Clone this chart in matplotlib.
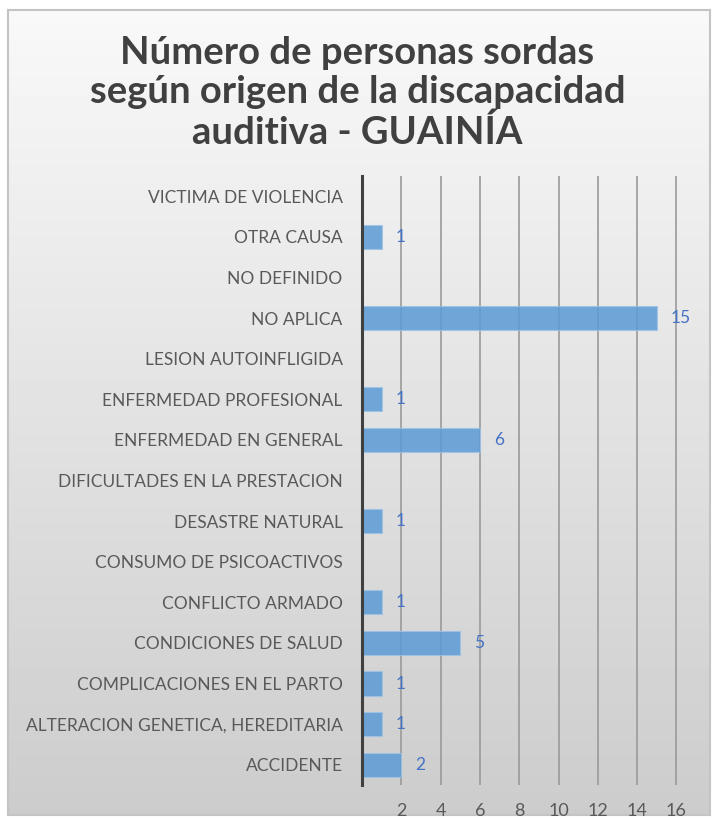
import numpy as np
import matplotlib.pyplot as plt

# categories, bottom to top as drawn
categories = [
    "ACCIDENTE",
    "ALTERACION GENETICA, HEREDITARIA",
    "COMPLICACIONES EN EL PARTO",
    "CONDICIONES DE SALUD",
    "CONFLICTO ARMADO",
    "CONSUMO DE PSICOACTIVOS",
    "DESASTRE NATURAL",
    "DIFICULTADES EN LA PRESTACION",
    "ENFERMEDAD EN GENERAL",
    "ENFERMEDAD PROFESIONAL",
    "LESION AUTOINFLIGIDA",
    "NO APLICA",
    "NO DEFINIDO",
    "OTRA CAUSA",
    "VICTIMA DE VIOLENCIA",
]
values = [2, 1, 1, 5, 1, 0, 1, 0, 6, 1, 0, 15, 0, 1, 0]
xticks = [2, 4, 6, 8, 10, 12, 14, 16]

title = "Número de personas sordas\nsegún origen de la discapacidad\nauditiva - GUAINÍA"

plt.rcParams["font.family"] = ["Lato", "DejaVu Sans"]

fig = plt.figure(figsize=(7.15, 8.21), dpi=100)
fig.patch.set_facecolor("white")

# gradient background panel with light border
bg = fig.add_axes([8 / 715, 1 - 815 / 821, 702 / 715, 805 / 821], zorder=0)
grad = np.linspace(0.975, 0.80, 256).reshape(-1, 1)
bg.imshow(grad, aspect="auto", cmap="gray", vmin=0, vmax=1, extent=[0, 1, 0, 1])
bg.set_xticks([])
bg.set_yticks([])
for s in bg.spines.values():
    s.set_color("#c4c4c4")
    s.set_linewidth(1.5)

ax = fig.add_axes([362 / 715, 36 / 821, 338 / 715, 609 / 821], zorder=1)
ax.patch.set_alpha(0)

y = np.arange(len(categories))
ax.barh(y, values, height=0.6, color="#5B9BD5", alpha=0.85, zorder=3,
        edgecolor="#9dc3e6", linewidth=0.8)

for yi, v in zip(y, values):
    if v > 0:
        ax.annotate(str(v), (v, yi), xytext=(10, 0), textcoords="offset points",
                    va="center", ha="left", fontsize=12.5, color="#4472C4", zorder=4)

ax.set_xlim(0, 17.2)
ax.set_ylim(-0.5, len(categories) - 0.5)
ax.set_xticks(xticks)
ax.set_xticklabels([str(t) for t in xticks], fontsize=13, color="#595959")
ax.set_yticks(y)
ax.set_yticklabels(categories, fontsize=12.5, color="#595959")
ax.tick_params(axis="both", length=0)
ax.tick_params(axis="x", pad=13)
ax.tick_params(axis="y", pad=14)

ax.grid(axis="x", color="#9a9a9a", linewidth=1.2, zorder=1)
ax.set_axisbelow(True)
for side in ["top", "right", "bottom"]:
    ax.spines[side].set_visible(False)
ax.spines["left"].set_color("#404040")
ax.spines["left"].set_linewidth(2.2)
ax.spines["left"].set_zorder(5)

fig.text(0.5, 1 - 93 / 821, title, ha="center", va="center", fontsize=27.5,
         fontweight="bold", color="#404040", linespacing=1.2)

fig.savefig("out.png", dpi=100)
